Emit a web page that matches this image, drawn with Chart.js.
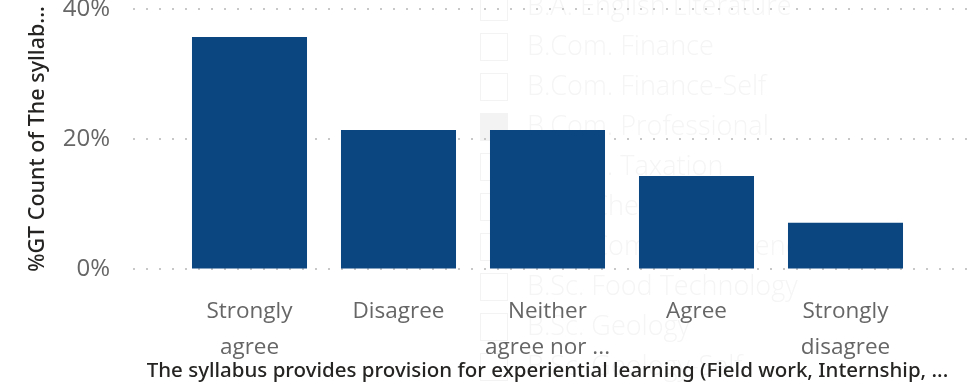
<!DOCTYPE html>
<html>
<head>
<meta charset="utf-8">
<script src="https://cdn.jsdelivr.net/npm/chart.js@4"></script>
<style>
  html, body { margin: 0; padding: 0; background: #fff; }
  #wrap { width: 980px; height: 385px; position: relative; }
</style>
</head>
<body>
<div id="wrap"><canvas id="myChart"></canvas></div>
<script>
// answers on the x axis
const categories = [["Strongly", "agree"], "Disagree", ["Neither", "agree nor ..."], "Agree", ["Strongly", "disagree"]];
// percent of grand total
const percentValues = [35.7, 21.4, 21.4, 14.3, 7.1];
const yTicks = [0, 20, 40];
const xTitle = "The syllabus provides provision for experiential learning (Field work, Internship, ...";
const yTitle = "%GT Count of The syllab...";

// faint slicer list that shows through behind the visual
const slicerItems = ["B.A. English Literature", "B.Com. Finance", "B.Com. Finance-Self", "B.Com. Professional",
    "B.Com. Taxation", "B.Sc. Chemistry", "B.Sc. Computer Science", "B.Sc. Food Technology", "B.Sc. Geology", "B.Sc. Geology-Self"];
const slicerChecked = [false, false, false, true, false, false, false, false, false, false];

const ghostSlicer = {
    id: "ghostSlicer",
    beforeDraw(chart) {
        let ctx = chart.ctx;
        ctx.save();
        ctx.font = "300 27px 'Open Sans'";
        ctx.textBaseline = "middle";
        for (let i = 0; i < slicerItems.length; i++) {
            let y = 7 + i * 40;
            ctx.strokeStyle = "#f3f3f3";
            ctx.lineWidth = 1;
            if (slicerChecked[i]) {
                ctx.fillStyle = "#f3f3f3";
                ctx.fillRect(480, y - 14, 28, 28);
            } else {
                ctx.strokeRect(480.5, y - 13.5, 27, 27);
            }
            ctx.fillStyle = "#f5f5f5";
            ctx.fillText(slicerItems[i], 527, y);
        }
        ctx.restore();
    }
};

// dotted gridlines run wider than the bar area, like in the original
const dottedGrid = {
    id: "dottedGrid",
    beforeDatasetsDraw(chart) {
        let ctx = chart.ctx;
        let yScale = chart.scales.y;
        ctx.save();
        ctx.fillStyle = "#c8c8c8";
        yTicks.forEach(v => {
            let y = Math.round(yScale.getPixelForValue(v));
            for (let x = 133; x < 978; x += 13) {
                ctx.fillRect(x, y - 1, 2, 2);
            }
        });
        ctx.restore();
    }
};

// x axis title is wider than the plot, so it is drawn here without a max width
const xAxisTitle = {
    id: "xAxisTitle",
    afterDraw(chart) {
        let ctx = chart.ctx;
        let a = chart.chartArea;
        ctx.save();
        ctx.font = "500 20.5px 'Noto Sans'";
        ctx.fillStyle = "#252423";
        ctx.textAlign = "center";
        ctx.textBaseline = "middle";
        ctx.fillText(xTitle, (a.left + a.right) / 2, 371);
        ctx.restore();
    }
};

let config = {
    type: "bar",
    data: {
        labels: categories,
        datasets: [
            {
                label: "%GT Count",
                data: percentValues,
                backgroundColor: "#0b4680",
                categoryPercentage: 1,
                barPercentage: 0.772
            }
        ]
    },
    options: {
        responsive: true,
        maintainAspectRatio: false,
        animation: false,
        layout: {
            padding: { top: 9, right: 60, left: 0, bottom: 0 }
        },
        plugins: {
            legend: { display: false },
            tooltip: { enabled: false }
        },
        scales: {
            x: {
                grid: { display: false },
                border: { display: false },
                ticks: {
                    color: "#666666",
                    font: { family: "'Open Sans'", size: 22.5, lineHeight: 1.62 },
                    padding: 16,
                    maxRotation: 0,
                    autoSkip: false
                },
                afterFit: (s) => { s.height = 116; }
            },
            y: {
                min: 0,
                max: 40,
                afterBuildTicks: (s) => { s.ticks = yTicks.map(v => ({ value: v })); },
                grid: {
                    display: true,
                    drawOnChartArea: false,
                    drawTicks: true,
                    tickLength: 65,
                    color: "rgba(0,0,0,0)"
                },
                border: { display: false },
                ticks: {
                    color: "#666666",
                    font: { family: "'Open Sans'", size: 24, lineHeight: 0.7 },
                    padding: 0,
                    callback: (v) => v + "%"
                },
                title: {
                    display: true,
                    text: yTitle,
                    color: "#252423",
                    font: { family: "'Noto Sans'", size: 21.5, weight: 500 },
                    padding: { top: 25, bottom: 0 }
                },
                afterFit: (s) => { s.width = 175; }
            }
        }
    },
    plugins: [ghostSlicer, dottedGrid, xAxisTitle]
};

let ctx = document.getElementById("myChart").getContext("2d");
let myChart = new Chart(ctx, config);
</script>
</body>
</html>
